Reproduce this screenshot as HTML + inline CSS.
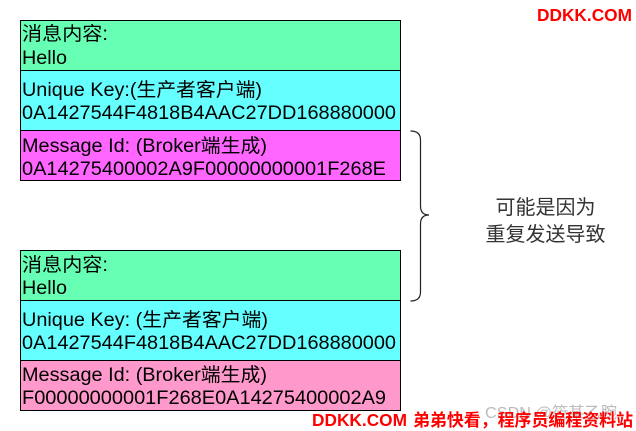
<!DOCTYPE html>
<html><head><meta charset="utf-8"><style>
html,body{margin:0;padding:0;background:#fff;}
svg{display:block;}
.t{font-family:"Liberation Sans","Noto Sans CJK SC",sans-serif;font-size:19px;fill:#000;}
</style></head><body>
<svg width="636" height="431" viewBox="0 0 636 431" xmlns="http://www.w3.org/2000/svg">
<!-- top block -->
<rect x="20.5" y="20.5" width="380" height="50" fill="#66FFB3" stroke="#000" stroke-width="1"/>
<rect x="20.5" y="70.5" width="380" height="60" fill="#66FFFF" stroke="#000" stroke-width="1"/>
<rect x="20.5" y="130.5" width="380" height="50" fill="#FF66FF" stroke="#000" stroke-width="1"/>
<text class="t" x="22" y="40" textLength="86" lengthAdjust="spacingAndGlyphs">消息内容:</text>
<text class="t" x="22" y="64" textLength="45" lengthAdjust="spacingAndGlyphs">Hello</text>
<text class="t" x="22" y="96" textLength="240" lengthAdjust="spacingAndGlyphs">Unique Key:(生产者客户端)</text>
<text class="t" x="22" y="119" textLength="374" lengthAdjust="spacingAndGlyphs">0A1427544F4818B4AAC27DD168880000</text>
<text class="t" x="22" y="152" textLength="245" lengthAdjust="spacingAndGlyphs">Message Id: (Broker端生成)</text>
<text class="t" x="22" y="175" textLength="364" lengthAdjust="spacingAndGlyphs">0A14275400002A9F00000000001F268E</text>
<!-- bottom block -->
<rect x="20.5" y="250.5" width="380" height="50" fill="#66FFB3" stroke="#000" stroke-width="1"/>
<rect x="20.5" y="300.5" width="380" height="60" fill="#66FFFF" stroke="#000" stroke-width="1"/>
<rect x="20.5" y="360.5" width="380" height="50" fill="#FF99CC" stroke="#000" stroke-width="1"/>
<text class="t" x="22" y="271" textLength="86" lengthAdjust="spacingAndGlyphs">消息内容:</text>
<text class="t" x="22" y="294" textLength="45" lengthAdjust="spacingAndGlyphs">Hello</text>
<text class="t" x="22" y="326" textLength="246" lengthAdjust="spacingAndGlyphs">Unique Key: (生产者客户端)</text>
<text class="t" x="22" y="349" textLength="374" lengthAdjust="spacingAndGlyphs">0A1427544F4818B4AAC27DD168880000</text>
<text class="t" x="22" y="381" textLength="245" lengthAdjust="spacingAndGlyphs">Message Id: (Broker端生成)</text>
<text class="t" x="22" y="404" textLength="364" lengthAdjust="spacingAndGlyphs">F00000000001F268E0A14275400002A9</text>
<!-- brace -->
<path d="M410.5 131 Q420.5 131 420.5 140 L420.5 206 Q420.5 215 429 215 Q420.5 215 420.5 224 L420.5 292 Q420.5 301 410.5 301" fill="none" stroke="#222" stroke-width="1.2"/>
<text x="545.5" y="214" text-anchor="middle" font-family="Liberation Sans, Noto Sans CJK SC, sans-serif" font-size="20" fill="#333">可能是因为</text>
<text x="545.5" y="241" text-anchor="middle" font-family="Liberation Sans, Noto Sans CJK SC, sans-serif" font-size="20" fill="#333">重复发送导致</text>
<!-- watermarks -->
<text x="537" y="21" font-family="Liberation Sans, Noto Sans CJK SC, sans-serif" font-size="17.5" font-weight="bold" fill="#FF0000" textLength="95" lengthAdjust="spacingAndGlyphs">DDKK.COM</text>
<text x="485" y="418" font-family="Liberation Sans, Noto Sans CJK SC, sans-serif" font-size="16" fill="#BBBBBB" textLength="132" lengthAdjust="spacingAndGlyphs">CSDN @筱某乙腕</text>
<text x="312" y="426" font-family="Liberation Sans, Noto Sans CJK SC, sans-serif" font-size="17.5" font-weight="bold" fill="#FF0000" textLength="95" lengthAdjust="spacingAndGlyphs">DDKK.COM</text>
<text x="413" y="426" font-family="Liberation Sans, Noto Sans CJK SC, sans-serif" font-size="17" font-weight="bold" fill="#FF0000" textLength="220" lengthAdjust="spacingAndGlyphs">弟弟快看，程序员编程资料站</text>
</svg>
</body></html>
